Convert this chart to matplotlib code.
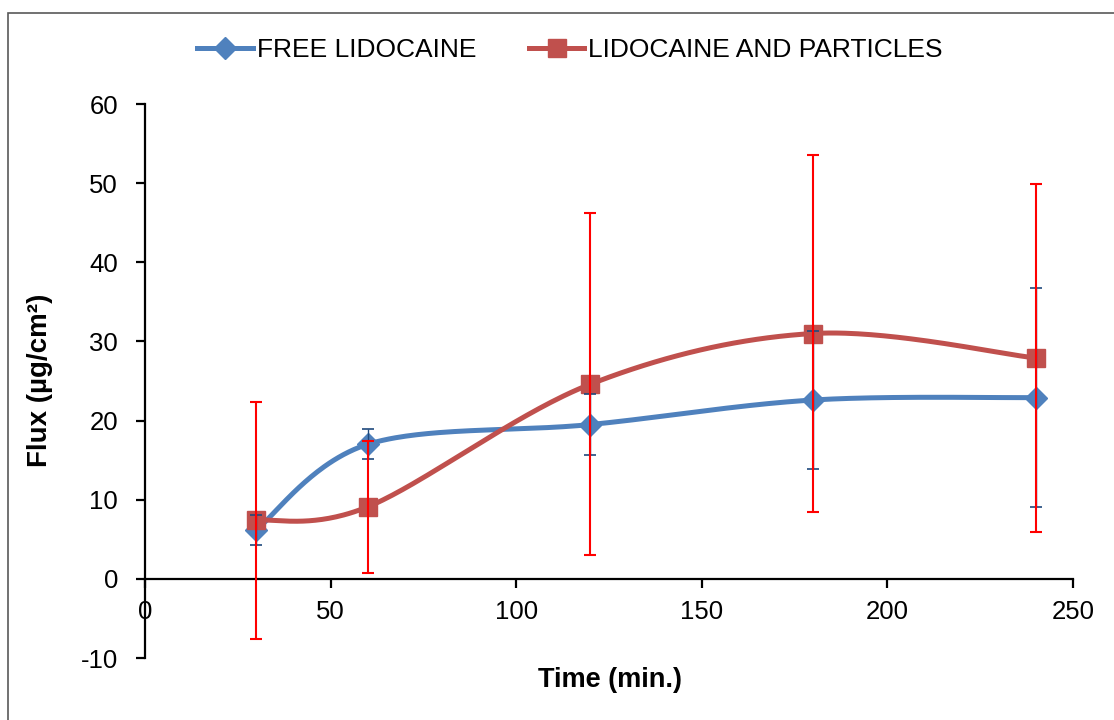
import numpy as np
import matplotlib
matplotlib.use('Agg')
import matplotlib.pyplot as plt
from matplotlib.patches import Rectangle
from matplotlib.lines import Line2D

plt.rcParams['font.family'] = ['Liberation Sans', 'DejaVu Sans']
plt.rcParams['axes.unicode_minus'] = False

# datos
time_min = [30, 60, 120, 180, 240]
free_lido = [6.2, 17.0, 19.5, 22.6, 22.9]
free_lido_sd = [1.9, 1.9, 3.9, 8.7, 13.8]
lido_part = [7.4, 9.1, 24.6, 31.0, 27.9]
lido_part_sd = [15.0, 8.3, 21.6, 22.6, 22.0]

label_free = "FREE LIDOCAINE"
label_part = "LIDOCAINE AND PARTICLES"


def smooth_curve(xs, ys, n=60):
    # curva suavizada tipo Excel (Catmull-Rom en forma de Bezier)
    p = np.column_stack([xs, ys]).astype(float)
    p_ext = np.vstack([p[0], p, p[-1]])
    out = []
    for i in range(1, len(p_ext) - 2):
        p0, p1, p2, p3 = p_ext[i - 1], p_ext[i], p_ext[i + 1], p_ext[i + 2]
        b1 = p1 + (p2 - p0) / 6.0
        b2 = p2 - (p3 - p1) / 6.0
        t = np.linspace(0, 1, n)[:, None]
        seg = ((1 - t) ** 3) * p1 + 3 * ((1 - t) ** 2) * t * b1 + 3 * (1 - t) * t ** 2 * b2 + t ** 3 * p2
        out.append(seg)
    c = np.vstack(out)
    return c[:, 0], c[:, 1]


blue = '#4F81BD'
red = '#C0504D'
lw = 3.6

fig = plt.figure(figsize=(11.14, 7.2), dpi=100)
ax = fig.add_axes([145 / 1114, 1 - 658 / 720, (1073 - 145) / 1114, (658 - 104) / 720])

# marco exterior del grafico
fig.patches.append(Rectangle((8 / 1114, -0.1), 1.2, (720 - 13) / 720 + 0.1,
                             transform=fig.transFigure, fill=False,
                             edgecolor='#595959', linewidth=1.2, clip_on=False))

sx, sy = smooth_curve(time_min, free_lido)
ax.plot(sx, sy, color=blue, linewidth=lw, zorder=3, solid_capstyle='round')
ax.plot(time_min, free_lido, linestyle='none', marker='D', markersize=11,
        color=blue, zorder=3)

sx, sy = smooth_curve(time_min, lido_part)
ax.plot(sx, sy, color=red, linewidth=lw, zorder=4, solid_capstyle='round')
ax.plot(time_min, lido_part, linestyle='none', marker='s', markersize=12.5,
        color=red, zorder=4)

ax.errorbar(time_min, free_lido, yerr=free_lido_sd, fmt='none', ecolor='#1F497D',
            elinewidth=1.0, capsize=4.5, capthick=1.2, zorder=5)
ax.errorbar(time_min, lido_part, yerr=lido_part_sd, fmt='none', ecolor='#FF0000',
            elinewidth=1.5, capsize=4.5, capthick=1.5, zorder=6)

ax.set_xlim(0, 250)
ax.set_ylim(-10, 60)
ax.set_xticks(np.arange(0, 251, 50))
ax.set_yticks(np.arange(-10, 61, 10))

ax.spines['top'].set_visible(False)
ax.spines['right'].set_visible(False)
ax.spines['bottom'].set_position(('data', 0))
ax.spines['left'].set_position(('data', 0))
for s in ['bottom', 'left']:
    ax.spines[s].set_linewidth(1.6)
ax.tick_params(axis='both', labelsize=18.5, width=1.6, length=6.5, direction='out')
ax.tick_params(axis='x', pad=9)
ax.tick_params(axis='y', pad=13)

fig.text(0.548, 1 - 680 / 720, "Time (min.)", ha='center', va='center',
         fontsize=19.5, fontweight='bold')
fig.text(40 / 1114, 1 - 380 / 720, "Flux (µg/cm²)", ha='center', va='center',
         rotation=90, fontsize=20, fontweight='bold')

handles = [
    Line2D([], [], color=blue, linewidth=lw, marker='D', markersize=11),
    Line2D([], [], color=red, linewidth=lw, marker='s', markersize=12.5),
]
fig.legend(handles, [label_free, label_part], loc='center', ncol=2,
           bbox_to_anchor=(570 / 1114, 1 - 50 / 720), frameon=False,
           fontsize=19, handlelength=2.1, handletextpad=0.15,
           columnspacing=2.0)

fig.savefig('out.png', dpi=100)
plt.close()
